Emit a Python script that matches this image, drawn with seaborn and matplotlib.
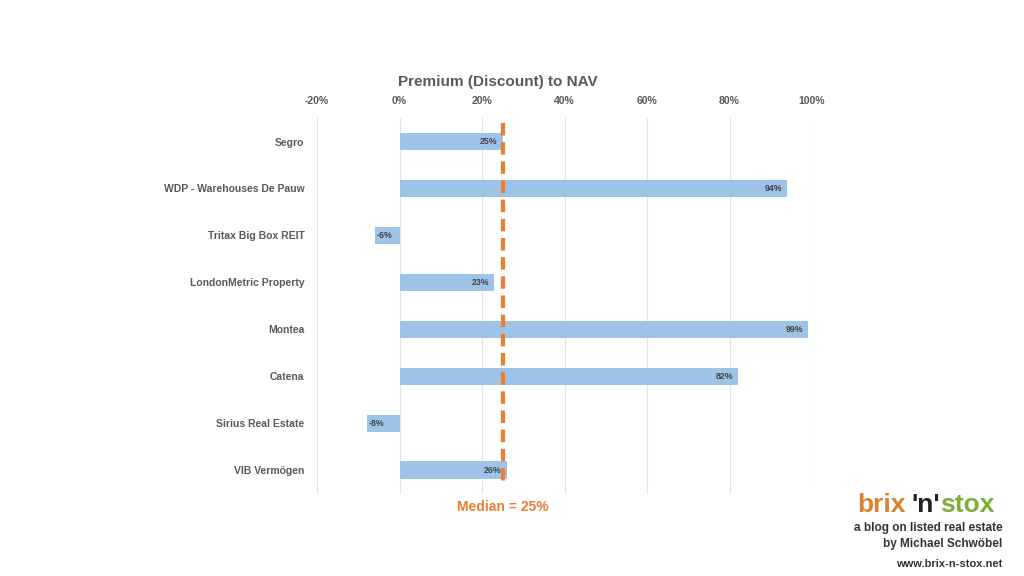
import seaborn as sns
import matplotlib.pyplot as plt
import pandas as pd

# data
companies = ["Segro", "WDP - Warehouses De Pauw", "Tritax Big Box REIT",
             "LondonMetric Property", "Montea", "Catena",
             "Sirius Real Estate", "VIB Vermögen"]
premium = [25, 94, -6, 23, 99, 82, -8, 26]
median_value = 25
tick_values = [-20, 0, 20, 40, 60, 80, 100]

df = pd.DataFrame({"company": companies, "premium": premium})

sns.set_theme(style="white")
plt.rcParams["font.family"] = ["Liberation Sans", "DejaVu Sans"]

fig = plt.figure(figsize=(10.24, 5.76), dpi=100)
ax = fig.add_axes([0.3096, 0.143, 0.4834, 0.652])

sns.barplot(data=df, x="premium", y="company", color="#9DC3E6",
            saturation=1, width=0.37, linewidth=0, ax=ax, zorder=2)

# labels at the inner end of each bar
for i, v in enumerate(premium):
    if v >= 0:
        ax.text(v - 1.2, i, f"{v}%", ha="right", va="center",
                fontsize=6.3, fontweight="bold", color="#404040", zorder=3)
    else:
        ax.text(v + 0.4, i, f"{v}%", ha="left", va="center",
                fontsize=6.3, fontweight="bold", color="#404040", zorder=3)

# median line
ax.plot([median_value, median_value], [-0.4, 7.35], color="#ED7D31",
        lw=3, ls=(0, (3, 1.6)), zorder=4)
ax.text(median_value, 7.78, f"Median = {median_value}%", ha="center",
        va="center", fontsize=10, fontweight="bold", color="#ED7D31",
        clip_on=False)

ax.set_xlim(-20, 100)
ax.set_ylim(7.5, -0.5)
ax.set_xticks(tick_values)
ax.set_xticklabels([f"{t}%" for t in tick_values], fontsize=7.5,
                   fontweight="bold", color="#595959")
ax.xaxis.tick_top()
ax.tick_params(axis="x", length=0, pad=9)
ax.tick_params(axis="y", length=0, pad=9)
for lbl in ax.get_yticklabels():
    lbl.set_fontsize(7.5)
    lbl.set_fontweight("bold")
    lbl.set_color("#595959")
ax.grid(axis="x", color="#E3E3E3", lw=0.8, zorder=0)
ax.set_axisbelow(True)
ax.set_xlabel("")
ax.set_ylabel("")
for s in ax.spines.values():
    s.set_visible(False)

fig.text(0.486, 0.857, "Premium (Discount) to NAV", ha="center", va="center",
         fontsize=11, fontweight="bold", color="#595959")

# logo text
fig.text(0.837, 0.124, "brix", ha="left", va="center", fontsize=19,
         color="#D9822B", fontweight="bold")
fig.text(0.89, 0.124, "'n'", ha="left", va="center", fontsize=19,
         color="#222222", fontweight="bold")
fig.text(0.918, 0.124, "stox", ha="left", va="center", fontsize=19,
         color="#7DAE3A", fontweight="bold")
fig.text(0.979, 0.083, "a blog on listed real estate", ha="right", va="center",
         fontsize=8.5, fontweight="bold", color="#333333")
fig.text(0.979, 0.055, "by Michael Schwöbel", ha="right", va="center",
         fontsize=8.5, fontweight="bold", color="#333333")
fig.text(0.979, 0.021, "www.brix-n-stox.net", ha="right", va="center",
         fontsize=8, fontweight="bold", color="#333333")

fig.savefig("out.png", dpi=100, facecolor="white")
